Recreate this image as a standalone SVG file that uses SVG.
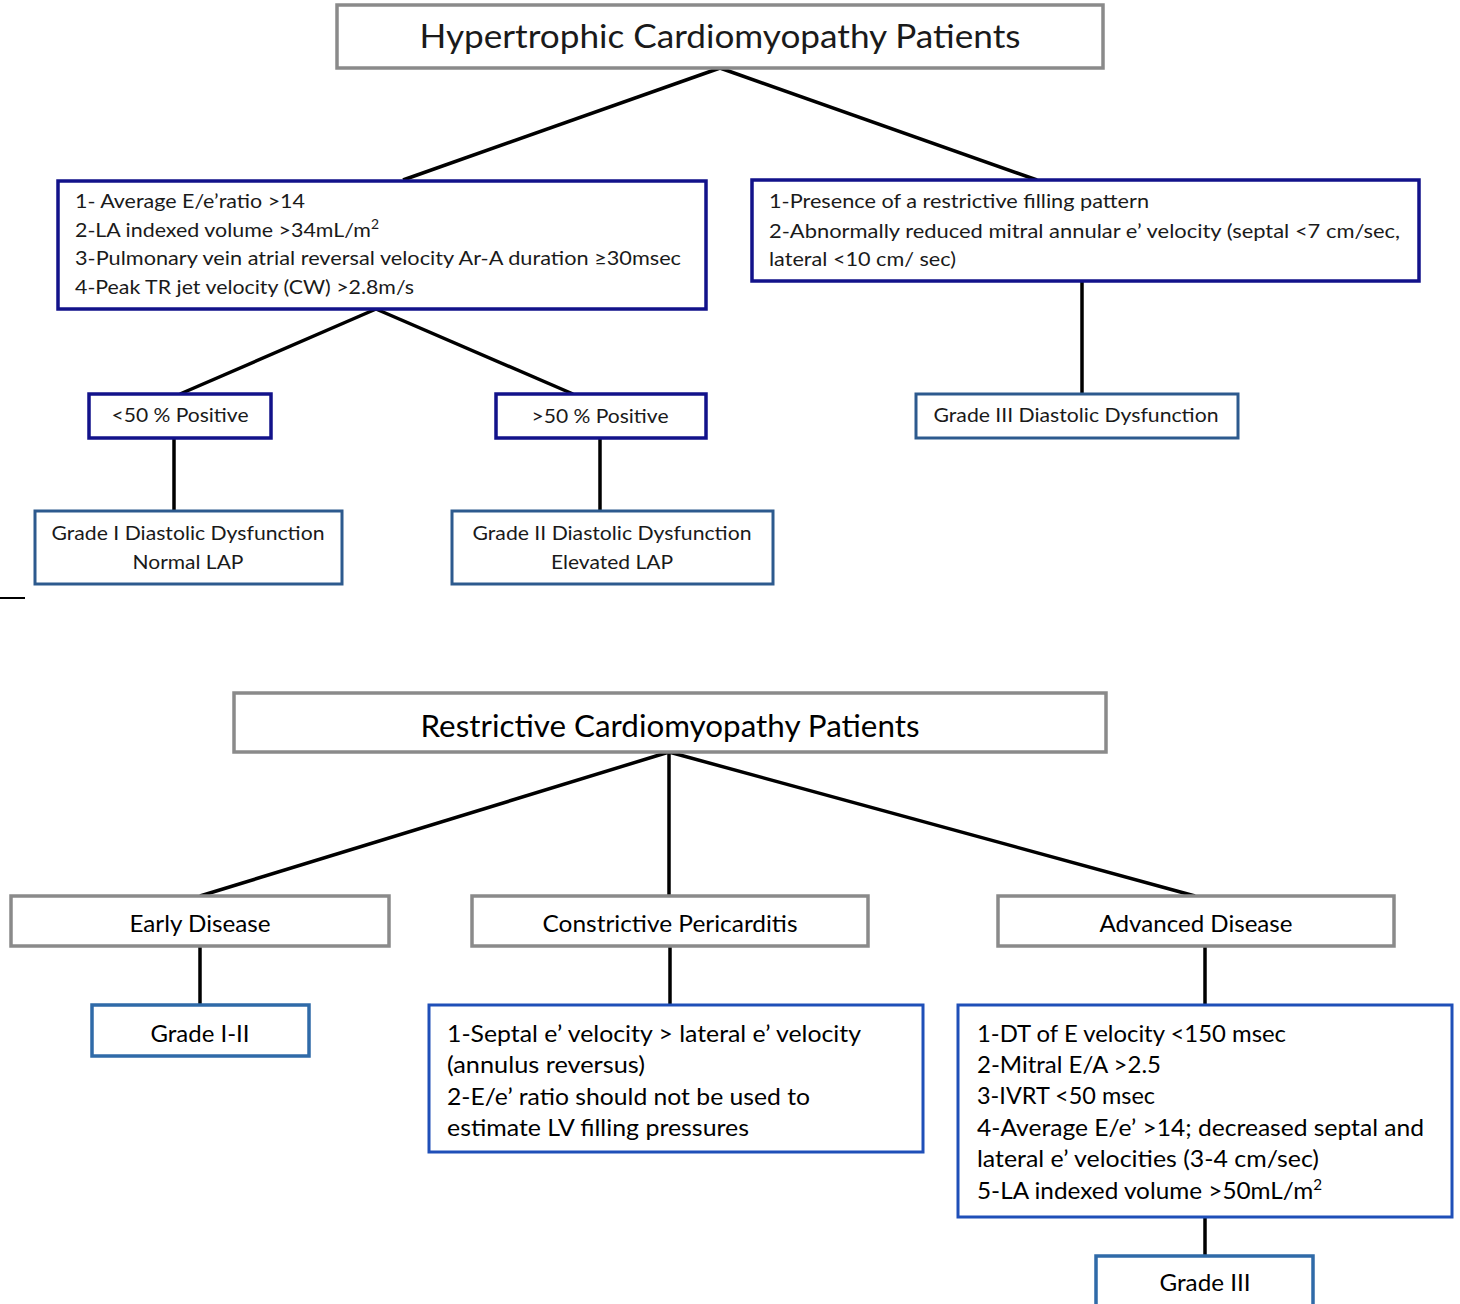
<svg xmlns="http://www.w3.org/2000/svg" width="1460" height="1304" viewBox="0 0 1460 1304">
<style>
text{font-family:Lato,"Open Sans","Liberation Sans",sans-serif;fill:#1a1a1a}
.gray{fill:#fff;stroke:#8a8a8a;stroke-width:3.5}
.navy{fill:#fff;stroke:#12128a;stroke-width:3.5}
.steel{fill:#fff;stroke:#2d5a8e;stroke-width:3}
.blue{fill:#fff;stroke:#1f4fb8;stroke-width:3}
.sblue{fill:#fff;stroke:#2f6aa8;stroke-width:3.5}
.t20{font-size:20px}
.t24{font-size:24px;fill:#000}
.c{text-anchor:middle}
.conn line{stroke:#000;stroke-width:3.5;stroke-linecap:butt}
</style>
<rect width="1460" height="1304" fill="#fff"/>
<g class="conn" id="connectors">
<line x1="720" y1="68" x2="403" y2="180"/>
<line x1="720" y1="68" x2="1037" y2="180"/>
<line x1="376" y1="309" x2="180" y2="394"/>
<line x1="376" y1="309" x2="573" y2="394"/>
<line x1="1082" y1="281" x2="1082" y2="394"/>
<line x1="174" y1="438" x2="174" y2="511"/>
<line x1="600" y1="438" x2="600" y2="511"/>
<line x1="669" y1="752" x2="200" y2="896"/>
<line x1="669" y1="752" x2="669" y2="896"/>
<line x1="669" y1="752" x2="1195" y2="896"/>
<line x1="200" y1="946" x2="200" y2="1005"/>
<line x1="670" y1="946" x2="670" y2="1005"/>
<line x1="1205" y1="946" x2="1205" y2="1005"/>
<line x1="1205" y1="1217" x2="1205" y2="1256"/>
<line x1="0" y1="598" x2="25" y2="598" style="stroke-width:2"/>
</g>
<g id="hcm-title">
<rect class="gray" x="337" y="5" width="766" height="63"/>
<text x="720" y="48" class="c" font-size="32" textLength="601" lengthAdjust="spacingAndGlyphs">Hypertrophic Cardiomyopathy Patients</text>
</g>
<g id="hcm-criteria">
<rect class="navy" x="58" y="181" width="648" height="128"/>
<text class="t20" x="75" y="208" textLength="230" lengthAdjust="spacingAndGlyphs">1- Average E/e’ratio &gt;14</text>
<text class="t20" x="75" y="237" textLength="304" lengthAdjust="spacingAndGlyphs">2-LA indexed volume &gt;34mL/m<tspan font-size="13" dy="-8">2</tspan></text>
<text class="t20" x="75" y="265" textLength="606" lengthAdjust="spacingAndGlyphs">3-Pulmonary vein atrial reversal velocity Ar-A duration ≥30msec</text>
<text class="t20" x="75" y="294" textLength="339" lengthAdjust="spacingAndGlyphs">4-Peak TR jet velocity (CW) &gt;2.8m/s</text>
</g>
<g id="restrictive-criteria">
<rect class="navy" x="752" y="180" width="667" height="101"/>
<text class="t20" x="769" y="208" textLength="380" lengthAdjust="spacingAndGlyphs">1-Presence of a restrictive filling pattern</text>
<text class="t20" x="769" y="238" textLength="631" lengthAdjust="spacingAndGlyphs">2-Abnormally reduced mitral annular e’ velocity (septal &lt;7 cm/sec,</text>
<text class="t20" x="769" y="266" textLength="187" lengthAdjust="spacingAndGlyphs">lateral &lt;10 cm/ sec)</text>
</g>
<g id="lt50">
<rect class="navy" x="89" y="394" width="182" height="44"/>
<text class="t20 c" x="180" y="422" textLength="137" lengthAdjust="spacingAndGlyphs">&lt;50 % Positive</text>
</g>
<g id="gt50">
<rect class="navy" x="496" y="394" width="210" height="44"/>
<text class="t20 c" x="600" y="423" textLength="137" lengthAdjust="spacingAndGlyphs">&gt;50 % Positive</text>
</g>
<g id="grade3-dd">
<rect class="steel" x="916" y="394" width="322" height="44"/>
<text class="t20 c" x="1076" y="422" textLength="285" lengthAdjust="spacingAndGlyphs">Grade III Diastolic Dysfunction</text>
</g>
<g id="grade1-dd">
<rect class="steel" x="35" y="511" width="307" height="73"/>
<text class="t20 c" x="188" y="540" textLength="273" lengthAdjust="spacingAndGlyphs">Grade I Diastolic Dysfunction</text>
<text class="t20 c" x="188" y="569" textLength="111" lengthAdjust="spacingAndGlyphs">Normal LAP</text>
</g>
<g id="grade2-dd">
<rect class="steel" x="452" y="511" width="321" height="73"/>
<text class="t20 c" x="612" y="540" textLength="279" lengthAdjust="spacingAndGlyphs">Grade II Diastolic Dysfunction</text>
<text class="t20 c" x="612" y="569" textLength="122" lengthAdjust="spacingAndGlyphs">Elevated LAP</text>
</g>
<g id="rcm-title">
<rect class="gray" x="234" y="693" width="872" height="59"/>
<text x="670" y="737" class="c" font-size="30" fill="#000" style="fill:#000" textLength="499" lengthAdjust="spacingAndGlyphs">Restrictive Cardiomyopathy Patients</text>
</g>
<g id="early">
<rect class="gray" x="11" y="896" width="378" height="50"/>
<text class="t24 c" x="200" y="932" textLength="141" lengthAdjust="spacingAndGlyphs">Early Disease</text>
</g>
<g id="constrictive">
<rect class="gray" x="472" y="896" width="396" height="50"/>
<text class="t24 c" x="670" y="932" textLength="255" lengthAdjust="spacingAndGlyphs">Constrictive Pericarditis</text>
</g>
<g id="advanced">
<rect class="gray" x="998" y="896" width="396" height="50"/>
<text class="t24 c" x="1196" y="932" textLength="193" lengthAdjust="spacingAndGlyphs">Advanced Disease</text>
</g>
<g id="grade12">
<rect class="sblue" x="92" y="1005" width="217" height="51"/>
<text class="t24 c" x="200" y="1042" textLength="99" lengthAdjust="spacingAndGlyphs">Grade I-II</text>
</g>
<g id="constrictive-criteria">
<rect class="blue" x="429" y="1005" width="494" height="147"/>
<text class="t24" x="447" y="1042" textLength="414" lengthAdjust="spacingAndGlyphs">1-Septal e’ velocity &gt; lateral e’ velocity</text>
<text class="t24" x="447" y="1073" textLength="198" lengthAdjust="spacingAndGlyphs">(annulus reversus)</text>
<text class="t24" x="447" y="1105" textLength="363" lengthAdjust="spacingAndGlyphs">2-E/e’ ratio should not be used to</text>
<text class="t24" x="447" y="1136" textLength="302" lengthAdjust="spacingAndGlyphs">estimate LV filling pressures</text>
</g>
<g id="advanced-criteria">
<rect class="blue" x="958" y="1005" width="494" height="212"/>
<text class="t24" x="977" y="1042" textLength="309" lengthAdjust="spacingAndGlyphs">1-DT of E velocity &lt;150 msec</text>
<text class="t24" x="977" y="1073" textLength="184" lengthAdjust="spacingAndGlyphs">2-Mitral E/A &gt;2.5</text>
<text class="t24" x="977" y="1104" textLength="178" lengthAdjust="spacingAndGlyphs">3-IVRT &lt;50 msec</text>
<text class="t24" x="977" y="1136" textLength="447" lengthAdjust="spacingAndGlyphs">4-Average E/e’ &gt;14; decreased septal and</text>
<text class="t24" x="977" y="1167" textLength="342" lengthAdjust="spacingAndGlyphs">lateral e’ velocities (3-4 cm/sec)</text>
<text class="t24" x="977" y="1199" textLength="345" lengthAdjust="spacingAndGlyphs">5-LA indexed volume &gt;50mL/m<tspan font-size="15" dy="-9">2</tspan></text>
</g>
<g id="grade3">
<rect class="sblue" x="1096" y="1256" width="217" height="56"/>
<text class="t24 c" x="1205" y="1291" textLength="91" lengthAdjust="spacingAndGlyphs">Grade III</text>
</g>
</svg>
